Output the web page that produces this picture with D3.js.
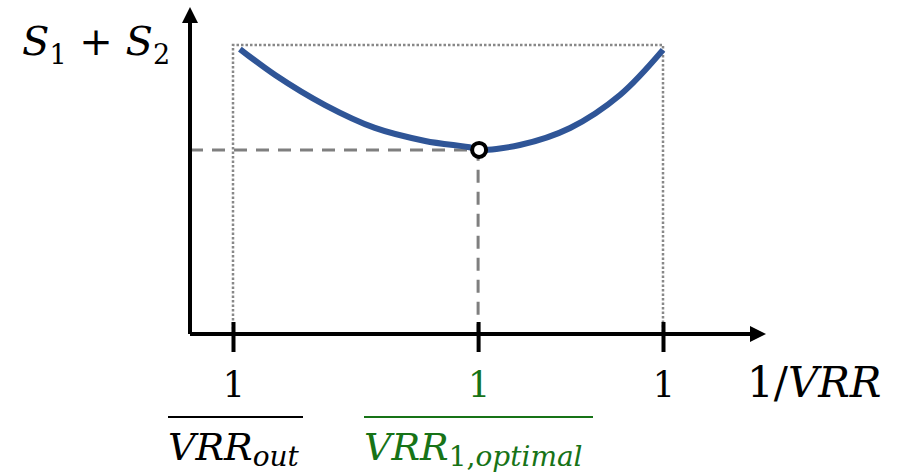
<!DOCTYPE html>
<html>
<head>
<meta charset="utf-8">
<script src="https://cdn.jsdelivr.net/npm/d3@7"></script>
<style>
  html, body { margin: 0; padding: 0; background: #fff; }
  svg { display: block; }
  .math { font-family: "DejaVu Serif", "Liberation Serif", serif; }
</style>
</head>
<body>
<svg id="chart" width="897" height="472"></svg>
<script>
// Normalised 1/VRR positions of the three marked ratios
const tickNames = ["out", "opt", "in"];
const tickValues = [0, 0.57, 1];
const tickNumerators = ["1", "1", "1"];

// S1 + S2 as a function of 1/VRR (normalised units)
const curveX = [0.016, 0.098, 0.214, 0.330, 0.447, 0.556, 0.570, 0.667, 0.784, 0.900, 1.0];
const curveY = [0.986, 0.896, 0.792, 0.713, 0.668, 0.644, 0.637, 0.654, 0.713, 0.827, 0.983];

// Optimum of the curve
const optX = [0.57];
const optY = [0.637];
const topY = [1.0];

const svg = d3.select("#chart");
const x = d3.scaleLinear().domain([0, 1]).range([233, 663]);
const y = d3.scaleLinear().domain([0, 1]).range([334, 45]);
const x0 = 190, yAxisTop = 7, xAxisEnd = 766;

const gray = "#7f7f7f";
const green = "#177317";
const blue = "#2f5597";

// Dotted bounding box from the outer ratios up to the max level
svg.append("path")
  .attr("d", d3.line()([[x(0), y(0)], [x(0), y(topY[0])], [x(1), y(topY[0])], [x(1), y(0)]]))
  .attr("fill", "none").attr("stroke", "#888").attr("stroke-width", 2.5)
  .attr("stroke-dasharray", "2.5,2");

// Dashed guide lines to the optimum
svg.append("path")
  .attr("d", d3.line()([[x0, y(optY[0])], [x(optX[0]), y(optY[0])], [x(optX[0]), y(0)]]))
  .attr("fill", "none").attr("stroke", gray).attr("stroke-width", 3)
  .attr("stroke-dasharray", "13,9");

// The S1 + S2 curve
const pts = curveX.map((d, i) => [x(d), y(curveY[i])]);
svg.append("path")
  .attr("d", d3.line().curve(d3.curveCatmullRom.alpha(0.5))(pts))
  .attr("fill", "none").attr("stroke", blue).attr("stroke-width", 6);

// Axes with arrowheads
const axes = svg.append("g");
axes.append("path")
  .attr("d", `M${x0},${y(0)} H${xAxisEnd - 14} M${x0},${y(0)} V${yAxisTop + 14}`)
  .attr("stroke", "#000").attr("stroke-width", 4).attr("fill", "none");
axes.append("path")
  .attr("d", `M${xAxisEnd},${y(0)} l-16,-8 v16 z`).attr("fill", "#000");
axes.append("path")
  .attr("d", `M${x0},${yAxisTop} l-8,16 h16 z`).attr("fill", "#000");

// Tick marks crossing the horizontal axis
const xAxis = d3.axisBottom(x).tickValues(tickValues).tickSize(18).tickFormat("");
const gx = svg.append("g").attr("transform", `translate(0,${y(0)})`).call(xAxis);
gx.select(".domain").remove();
gx.selectAll(".tick line").attr("y1", -12).attr("stroke", "#000").attr("stroke-width", 4);

// Tick numerators
const tickColor = ["#000", green, "#000"];
svg.selectAll(".num").data(tickValues).join("text")
  .attr("class", "math num")
  .attr("x", d => x(d) + 1).attr("y", 397)
  .attr("text-anchor", "middle")
  .attr("font-size", 35)
  .attr("fill", (d, i) => tickColor[i])
  .text((d, i) => tickNumerators[i]);

// Fraction bars and denominators
function denominator(sub, color, barL, barR) {
  svg.append("line").attr("x1", barL).attr("x2", barR).attr("y1", 417).attr("y2", 417)
    .attr("stroke", color).attr("stroke-width", 2);
  const t = svg.append("text").attr("class", "math").attr("x", barL).attr("y", 460)
    .attr("fill", color).attr("font-size", 38);
  t.append("tspan").attr("font-style", "italic").text("VRR");
  sub(t);
}
denominator(t => {
  t.append("tspan").attr("font-style", "italic").attr("font-size", 28).attr("dy", 6).text("out");
}, "#000", 168, 303);
denominator(t => {
  t.append("tspan").attr("font-size", 28).attr("dy", 6).text("1,");
  t.append("tspan").attr("font-style", "italic").attr("font-size", 28).text("optimal");
}, green, 364, 593);

// Axis titles
const xt = svg.append("text").attr("class", "math").attr("x", 747).attr("y", 397)
  .attr("font-size", 42).attr("fill", "#000");
xt.append("tspan").text("1/");
xt.append("tspan").attr("font-style", "italic").text("VRR");

const yt = svg.append("text").attr("class", "math").attr("x", 22).attr("y", 55)
  .attr("font-size", 40).attr("fill", "#000");
yt.append("tspan").attr("font-style", "italic").text("S");
yt.append("tspan").attr("font-size", 27).attr("dy", 9).text("1");
yt.append("tspan").attr("dy", -9).text(" + ");
yt.append("tspan").attr("font-style", "italic").text("S");
yt.append("tspan").attr("font-size", 27).attr("dy", 9).text("2");

// Optimum marker
svg.append("circle")
  .attr("cx", x(optX[0]) + 1).attr("cy", y(optY[0])).attr("r", 7)
  .attr("fill", "#fff").attr("stroke", "#000").attr("stroke-width", 4);
</script>
</body>
</html>
